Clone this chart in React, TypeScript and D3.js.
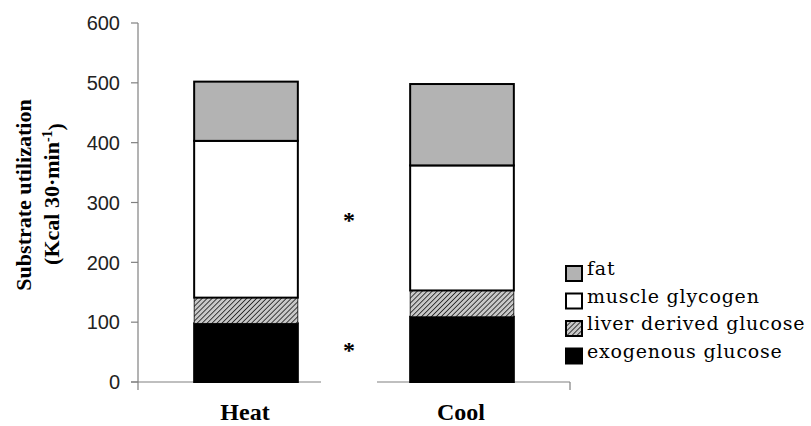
import React from "react";
import * as d3 from "d3";

const conditions = ["Heat", "Cool"];
const exogenousGlucose = [98, 109];
const liverGlucose = [43, 44];
const muscleGlycogen = [262, 209];
const fat = [99, 136];
const yTicks = [0, 100, 200, 300, 400, 500, 600];
const legendLabels = ["fat", "muscle glycogen", "liver derived glucose", "exogenous glucose"];
// significance marks: [value position]
const asterisks = [282, 65];

const W = 811, H = 426;
const left = 138, right = 570, top = 23, bottom = 382;

export default function App() {
    const x = d3.scaleBand().domain(conditions).range([left, right]).paddingInner(0.52).paddingOuter(0.26);
    const y = d3.scaleLinear().domain([0, 600]).range([bottom, top]);

    const rows = conditions.map((c, i) => ({
        cond: c,
        exo: exogenousGlucose[i],
        liver: liverGlucose[i],
        muscle: muscleGlycogen[i],
        fat: fat[i],
    }));
    const keys = ["exo", "liver", "muscle", "fat"];
    const fills: Record<string, string> = {
        exo: "#000",
        liver: "url(#hatch)",
        muscle: "#fff",
        fat: "#b3b3b3",
    };
    const series = d3.stack<any>().keys(keys)(rows);
    const legendKeys = ["fat", "muscle", "liver", "exo"];
    const axisColor = "#808080";
    const midX = (x("Heat")! + x.bandwidth() + x("Cool")!) / 2;

    return (
        <svg width={W} height={H} style={{ position: "absolute", left: 0, top: 0, background: "#fff" }}>
            <defs>
                <pattern id="hatch" width="3.5" height="3.5" patternUnits="userSpaceOnUse" patternTransform="rotate(45)">
                    <rect width="3.5" height="3.5" fill="#c8c8c8" />
                    <line x1="0" y1="0" x2="0" y2="3.5" stroke="#222" strokeWidth="1.7" />
                </pattern>
            </defs>

            {/* y axis */}
            <line x1={left} x2={left} y1={top} y2={bottom + 8} stroke={axisColor} strokeWidth={1.2} />
            {yTicks.map(t => (
                <g key={t}>
                    <line x1={left - 7} x2={left} y1={y(t)} y2={y(t)} stroke={axisColor} strokeWidth={1.2} />
                    <text x={left - 18} y={y(t)} dy="0.36em" textAnchor="end"
                        fontFamily="Liberation Sans, Arial, sans-serif" fontSize={20} fill="#222">{t}</text>
                </g>
            ))}

            {/* x axis baseline (interrupted behind the asterisk) */}
            <line x1={left - 7} x2={right} y1={bottom} y2={bottom} stroke={axisColor} strokeWidth={1.2} />
            <rect x={midX - 33} y={bottom - 3} width={56} height={6} fill="#fff" />
            <line x1={right} x2={right} y1={bottom} y2={bottom + 8} stroke={axisColor} strokeWidth={1.2} />

            {/* bars */}
            {series.map(s => (
                <g key={s.key}>
                    {s.map((d, i) => (
                        <rect key={i}
                            x={x(conditions[i])!}
                            y={y(d[1])}
                            width={x.bandwidth()}
                            height={y(d[0]) - y(d[1])}
                            fill={fills[s.key]}
                            stroke="#000"
                            strokeWidth={s.key === "liver" ? 0.8 : 2} />
                    ))}
                </g>
            ))}

            {/* category labels */}
            {conditions.map(c => (
                <text key={c} x={x(c)! + x.bandwidth() / 2 - 1} y={420} textAnchor="middle"
                    fontFamily="Liberation Serif, Times New Roman, serif" fontWeight="bold" fontSize={24}>{c}</text>
            ))}

            {/* asterisks */}
            {asterisks.map((v, i) => (
                <text key={i} x={midX - 5} y={y(v)} dy="0.62em" textAnchor="middle"
                    fontFamily="Liberation Serif, Times New Roman, serif" fontWeight="bold" fontSize={24}>*</text>
            ))}

            {/* y axis title */}
            <g transform="translate(23,195) rotate(-90)">
                <text x={0} y={0} dy="0.35em" textAnchor="middle"
                    fontFamily="Liberation Serif, Times New Roman, serif" fontWeight="bold" fontSize={22}>
                    Substrate utilization
                </text>
            </g>
            <g transform="translate(51,194) rotate(-90)">
                <text x={0} y={0} dy="0.35em" textAnchor="middle"
                    fontFamily="Liberation Serif, Times New Roman, serif" fontWeight="bold" fontSize={22}>
                    (Kcal 30·min<tspan dy="-0.5em" fontSize={14}>-1</tspan><tspan dy="0.5em">)</tspan>
                </text>
            </g>

            {/* legend */}
            {legendKeys.map((k, i) => (
                <g key={k} transform={`translate(566,${266 + i * 27.5})`}>
                    <rect x={0} y={0} width={16} height={15} fill={fills[k]} stroke="#000" strokeWidth={2} />
                    <text x={21} y={9} fontFamily="DejaVu Serif, serif" fontSize={19} letterSpacing={0.8} fill="#000">
                        {legendLabels[i]}
                    </text>
                </g>
            ))}
        </svg>
    );
}
